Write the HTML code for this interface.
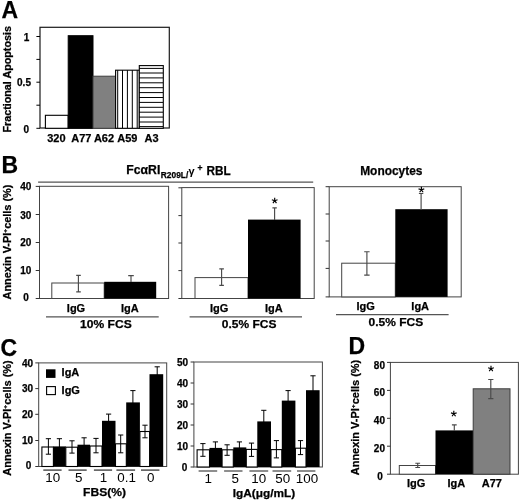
<!DOCTYPE html>
<html><head><meta charset="utf-8">
<style>
html,body{margin:0;padding:0;background:#fff;}
svg{display:block;filter:blur(0.3px);}
text{font-family:"Liberation Sans",sans-serif;fill:#000;}
.b,.pl,.t,.x{stroke:#000;stroke-width:0.25;}
.b{font-weight:bold;}
.pl{font-weight:bold;font-size:23px;}
.t{font-weight:bold;font-size:10px;}
.x{font-weight:bold;font-size:11px;}
.r{font-size:13.4px;}
.box{fill:none;stroke:#1a1a1a;stroke-width:1.2;}
.bk{fill:#000;stroke:#000;stroke-width:1;}
.wh{fill:#fff;stroke:#000;stroke-width:1.1;}
.gr{fill:#808080;stroke:#3c3c3c;stroke-width:1;}
.e{stroke:#000;stroke-width:1;fill:none;}
.eg{stroke:#4a4a4a;stroke-width:1.15;fill:none;}
.u{stroke:#555;stroke-width:1.3;fill:none;}
.u2{stroke:#6a6a6a;stroke-width:1.7;fill:none;}
.tk{stroke:#000;stroke-width:1;fill:none;}
.box2{fill:none;stroke:#444;stroke-width:1;}
.tk2{stroke:#333;stroke-width:1;fill:none;}
.whg{fill:#fff;stroke:#444;stroke-width:1;}
.bk0{fill:#000;stroke:none;}
.as{stroke:#000;stroke-width:1.15;fill:none;}
</style></head>
<body>
<svg width="520" height="502" viewBox="0 0 520 502">
<rect width="520" height="502" fill="#fff"/>

<!-- ===== Panel A ===== -->
<g id="A">
<text class="pl" x="1.6" y="18.2" font-size="25.5">A</text>
<rect class="box" x="40" y="27.3" width="129.3" height="100.7"/>
<path class="tk" d="M36.4 36.5h3.6M36.4 59.4h3.6M36.4 82.2h3.6M36.4 105.2h3.6M36.4 128.3h3.6"/>
<text class="t" x="26.6" y="41" text-anchor="middle" font-size="11">1</text>
<text class="t" x="24" y="86.2" text-anchor="middle" font-size="11">0.5</text>
<text class="t" x="26.2" y="133" text-anchor="middle" font-size="11">0</text>
<text class="t" transform="translate(10.8,79.3) rotate(-90)" text-anchor="middle" font-size="10.3" textLength="106.5" lengthAdjust="spacingAndGlyphs">Fractional Apoptosis</text>
<rect class="wh" x="45.4" y="115.3" width="22.8" height="13"/>
<rect class="bk" x="68.2" y="35.7" width="24.8" height="92.6"/>
<rect class="gr" x="93" y="76.2" width="22.6" height="52.1" stroke="#5a5a5a"/>
<rect class="wh" x="115.6" y="70.2" width="23.7" height="58.1"/>
<path class="e" d="M117.7 70.2V128M122.5 70.2V128M127.4 70.2V128M132.3 70.2V128M137.2 70.2V128"/>
<rect class="wh" x="139.3" y="65.6" width="24" height="62.7" stroke-width="1.3"/>
<path class="e" stroke-width="1.2" d="M139 68.4h24M139 73h24M139 77.9h24M139 82.8h24M139 87.7h24M139 92.6h24M139 97.5h24M139 102.4h24M139 107.3h24M139 112.2h24M139 117.1h24M139 122h24M139 126.6h24"/>
<text class="x" x="56.4" y="141.8" text-anchor="middle">320</text>
<text class="x" x="81.3" y="141.8" text-anchor="middle">A77</text>
<text class="x" x="104" y="141.8" text-anchor="middle">A62</text>
<text class="x" x="127.3" y="141.8" text-anchor="middle">A59</text>
<text class="x" x="151.5" y="141.8" text-anchor="middle">A3</text>
</g>

<!-- ===== Panel B ===== -->
<g id="B">
<text class="pl" x="1.6" y="172.6" font-size="25.5">B</text>
<text class="b" x="126.3" y="174.2" font-size="12.5" textLength="34" lengthAdjust="spacingAndGlyphs">Fc&#945;RI</text>
<text class="b" x="160.8" y="178.2" font-size="8.2" textLength="27.5" lengthAdjust="spacingAndGlyphs">R209L/</text>
<text x="188.5" y="175" font-size="11" font-family="Liberation Serif" font-weight="bold">&#947;</text>
<text class="b" x="197.4" y="171" font-size="8.5">+</text>
<text class="b" x="206.4" y="174.6" font-size="12.5" textLength="24.2" lengthAdjust="spacingAndGlyphs">RBL</text>
<text class="b" x="360.2" y="175" font-size="12.5" textLength="62.3" lengthAdjust="spacingAndGlyphs">Monocytes</text>
<path class="u" d="M38.1 182.2H313.2"/>
<!-- B1 -->
<rect class="box2" x="39.5" y="186.3" width="129.1" height="112.2"/>
<path class="tk2" d="M35.7 186.4h3.8M35.7 214.5h3.8M35.7 242.5h3.8M35.7 270.5h3.8M35.7 298.5h3.8"/>
<text class="t" x="25.8" y="190.3" text-anchor="middle" font-size="10.5">40</text>
<text class="t" x="25.8" y="218.5" text-anchor="middle" font-size="10.5">30</text>
<text class="t" x="25.8" y="246" text-anchor="middle" font-size="10.5">20</text>
<text class="t" x="25.8" y="274.3" text-anchor="middle" font-size="10.5">10</text>
<text class="t" x="26" y="301.1" text-anchor="middle" font-size="10.5">0</text>
<text class="t" transform="translate(10.9,242) rotate(-90)" text-anchor="middle" font-size="11" textLength="115" lengthAdjust="spacingAndGlyphs">Annexin V-PI<tspan font-size="6" dy="-4.2">+</tspan><tspan dy="4.2">cells (%)</tspan></text>
<rect class="whg" x="51.8" y="283" width="52.4" height="15.5"/>
<rect class="bk0" x="104.2" y="281.8" width="52" height="16.7"/>
<path class="eg" d="M78.4 275.3V291.8M76.2 275.3h4.6M76.2 291.8h4.6"/>
<path class="eg" d="M131 275.6V282M128.2 275.6h5.6"/>
<text class="x" x="76" y="311.7" text-anchor="middle" font-size="12.9">IgG</text>
<text class="x" x="129.8" y="311.7" text-anchor="middle" font-size="12.9">IgA</text>
<path class="u" d="M46 316.9H158.7"/>
<text class="x" x="80.1" y="327.8" font-size="13" textLength="51.6" lengthAdjust="spacingAndGlyphs">10% FCS</text>
<!-- B2 -->
<rect class="box2" x="181.8" y="187.6" width="132.4" height="110.9"/>
<path class="tk2" d="M178.4 187.8h3.4M178.4 215.6h3.4M178.4 243h3.4M178.4 270.6h3.4M178.4 298.5h3.4"/>
<rect class="whg" x="195" y="277.6" width="53" height="20.9"/>
<rect class="bk0" x="248" y="219.6" width="52.6" height="78.9"/>
<path class="eg" d="M221.6 268.8V285.3M219.3 268.8h4.6M219.3 285.3h4.6"/>
<path class="eg" d="M274.6 207.8V220M272.4 207.8h4.4"/>
<path class="as" d="M274.70 200.70L274.70 197.70M274.70 200.70L271.85 199.77M274.70 200.70L272.94 203.13M274.70 200.70L276.46 203.13M274.70 200.70L277.55 199.77"/>
<text class="x" x="219.2" y="311.8" text-anchor="middle" font-size="12.7">IgG</text>
<text class="x" x="273.8" y="311.8" text-anchor="middle" font-size="12.7">IgA</text>
<path class="u" d="M189.6 316.9H302"/>
<text class="x" x="221.8" y="328.2" font-size="13" textLength="54.6" lengthAdjust="spacingAndGlyphs">0.5% FCS</text>
<!-- B3 -->
<rect class="box2" x="329.2" y="186.7" width="132" height="110.2"/>
<path class="tk2" d="M325.6 186.7h3.6M325.6 214h3.6M325.6 241h3.6M325.6 268.4h3.6M325.6 296.9h3.6"/>
<rect class="whg" x="341.7" y="263.2" width="53.6" height="33.7"/>
<rect class="bk0" x="395.3" y="209.2" width="52.3" height="87.7"/>
<path class="eg" d="M366.9 251.7V275.1M364.2 251.7h5.4M364.2 275.1h5.4"/>
<path class="eg" d="M421.1 193.5V210M418.9 193.5h4.4"/>
<path class="as" d="M421.40 189.80L421.40 186.80M421.40 189.80L418.55 188.87M421.40 189.80L419.64 192.23M421.40 189.80L423.16 192.23M421.40 189.80L424.25 188.87"/>
<text class="x" x="365.6" y="310" text-anchor="middle" font-size="12.9">IgG</text>
<text class="x" x="420.2" y="310" text-anchor="middle" font-size="12.9">IgA</text>
<path class="u" d="M336 314.6H448.6"/>
<text class="x" x="368.6" y="326.3" font-size="13" textLength="54.6" lengthAdjust="spacingAndGlyphs">0.5% FCS</text>
</g>

<!-- ===== Panel C ===== -->
<g id="C">
<text class="pl" x="0.6" y="356" font-size="25.5">C</text>
<!-- C1 -->
<rect class="box2" x="38.7" y="362.9" width="128" height="103.6"/>
<path class="tk2" d="M35.3 362.9h3.4M35.3 388.6h3.4M35.3 414.3h3.4M35.3 440.5h3.4M35.3 466.5h3.4"/>
<text class="t" x="27.6" y="366.5" text-anchor="middle" font-size="10.6">40</text>
<text class="t" x="27.6" y="392.2" text-anchor="middle" font-size="10.6">30</text>
<text class="t" x="27.6" y="417.8" text-anchor="middle" font-size="10.6">20</text>
<text class="t" x="27.6" y="444" text-anchor="middle" font-size="10.6">10</text>
<text class="t" x="28.6" y="468.5" text-anchor="middle" font-size="10.6">0</text>
<text class="t" transform="translate(11.4,418) rotate(-90)" text-anchor="middle" font-size="11" textLength="115.5" lengthAdjust="spacingAndGlyphs">Annexin V-PI<tspan font-size="6" dy="-4.2">+</tspan><tspan dy="4.2">cells (%)</tspan></text>
<rect class="bk0" x="46" y="369.3" width="9.5" height="8.6"/>
<text class="x" x="61.6" y="376.2" font-size="13.2">IgA</text>
<rect class="wh" x="46.6" y="386.6" width="8.8" height="8"/>
<text class="x" x="61.6" y="393.8" font-size="13.2">IgG</text>
<g>
<rect class="wh" x="41.9" y="447" width="11.5" height="19.5"/><rect class="bk0" x="53.4" y="446.4" width="12.4" height="20.1"/>
<rect class="wh" x="65.8" y="447.2" width="11.7" height="19.3"/><rect class="bk0" x="77.5" y="444.7" width="12.5" height="21.8"/>
<rect class="wh" x="90" y="446" width="12" height="20.5"/><rect class="bk0" x="102" y="420.8" width="13.5" height="45.7"/>
<rect class="wh" x="115.5" y="443.8" width="10.8" height="22.7"/><rect class="bk0" x="126.2" y="402.4" width="13.7" height="64.1"/>
<rect class="wh" x="139.9" y="431.5" width="9.7" height="35"/><rect class="bk0" x="149.5" y="374.2" width="13.7" height="92.3"/>
</g>
<path class="e" d="M48.4 438.7V454.2M45.8 438.7h5.2M45.8 454.2h5.2 M59.4 438.7V447M56.8 438.7h5.2
M72 440.8V453.1M69.4 440.8h5.2M69.4 453.1h5.2 M84.1 437.8V445M81.5 437.8h5.2
M96 438.4V452.8M93.4 438.4h5.2M93.4 452.8h5.2 M108.6 414.1V421M106 414.1h5.2
M120.7 435V452.8M118.1 435h5.2M118.1 452.8h5.2 M132.9 390.6V403M130.3 390.6h5.2
M145 425.2V437.8M142.4 425.2h5.2M142.4 437.8h5.2 M157.2 366.8V375M154.6 366.8h5.2"/>
<path class="u2" d="M43.3 470.2H61.6M68.5 470.2H86.7M93.9 470.2H112.1M116.4 470.2H135.1M141 470.2H159.4"/>
<text class="r" x="52.8" y="482.3" text-anchor="middle">10</text>
<text class="r" x="78.8" y="482.3" text-anchor="middle">5</text>
<text class="r" x="103.6" y="482.3" text-anchor="middle">1</text>
<text class="r" x="126.6" y="482.3" text-anchor="middle">0.1</text>
<text class="r" x="150.8" y="482.3" text-anchor="middle">0</text>
<text class="x" x="83.1" y="495.8" font-size="12.3" textLength="42.9" lengthAdjust="spacingAndGlyphs">FBS(%)</text>
<!-- C2 -->
<rect class="box2" x="193.9" y="362" width="128.5" height="105"/>
<path class="tk2" d="M190.6 362h3.3M190.6 383h3.3M190.6 404h3.3M190.6 425h3.3M190.6 446h3.3M190.6 467h3.3"/>
<text class="t" x="182.6" y="366.2" text-anchor="middle" font-size="10.8">50</text>
<text class="t" x="182.6" y="387.2" text-anchor="middle" font-size="10.8">40</text>
<text class="t" x="182.6" y="408.2" text-anchor="middle" font-size="10.8">30</text>
<text class="t" x="182.6" y="429.2" text-anchor="middle" font-size="10.8">20</text>
<text class="t" x="182.6" y="450.2" text-anchor="middle" font-size="10.8">10</text>
<text class="t" x="184.6" y="470.6" text-anchor="middle" font-size="10.8">0</text>
<g>
<rect class="wh" x="197.1" y="449.8" width="12.4" height="17.2"/><rect class="bk0" x="209.5" y="447.9" width="12.6" height="19.1"/>
<rect class="wh" x="222.1" y="449.8" width="11.2" height="17.2"/><rect class="bk0" x="233.3" y="447.4" width="13" height="19.6"/>
<rect class="wh" x="246.3" y="449.4" width="11" height="17.6"/><rect class="bk0" x="257.3" y="421.4" width="13.7" height="45.6"/>
<rect class="wh" x="271" y="449.6" width="10.8" height="17.4"/><rect class="bk0" x="281.8" y="400.6" width="13.6" height="66.4"/>
<rect class="wh" x="295.4" y="448.2" width="10.6" height="18.8"/><rect class="bk0" x="306" y="390.2" width="13.6" height="76.8"/>
</g>
<path class="e" d="M202.9 443.6V456.3M200.3 443.6h5.2M200.3 456.3h5.2 M215.4 441.9V449M212.8 441.9h5.2
M227.1 444.8V455.3M224.5 444.8h5.2M224.5 455.3h5.2 M239.4 441.9V448M236.8 441.9h5.2
M251.5 443.1V456.4M248.9 443.1h5.2M248.9 456.4h5.2 M263.8 410.3V422M261.2 410.3h5.2
M276.4 440.6V457.9M273.8 440.6h5.2M273.8 457.9h5.2 M288.1 390.6V401M285.5 390.6h5.2
M300.5 440.6V454.6M297.9 440.6h5.2M297.9 454.6h5.2 M313 375.8V391M310.4 375.8h5.2"/>
<path class="u2" d="M198.6 471H217.2M224.1 471H242.5M249.4 471H268.2M272.5 471H291.2M297 471H315.4"/>
<text class="r" x="208.2" y="483.2" text-anchor="middle">1</text>
<text class="r" x="235.2" y="483.2" text-anchor="middle">5</text>
<text class="r" x="258.7" y="483.2" text-anchor="middle">10</text>
<text class="r" x="282.8" y="483.2" text-anchor="middle">50</text>
<text class="r" x="307" y="483.2" text-anchor="middle">100</text>
<text class="x" x="232.8" y="497.1" font-size="12.5" textLength="62.5" lengthAdjust="spacingAndGlyphs">IgA(&#956;g/mL)</text>
</g>

<!-- ===== Panel D ===== -->
<g id="D">
<text class="pl" x="348.5" y="354.2" font-size="25.5">D</text>
<rect class="box2" x="390.4" y="362.4" width="128" height="111.8"/>
<path class="tk2" d="M387 362.4h3.4M387 390.4h3.4M387 418.3h3.4M387 446.2h3.4M387 474.2h3.4"/>
<text class="t" x="379.4" y="368.8" text-anchor="middle" font-size="10.8">80</text>
<text class="t" x="379.4" y="396.2" text-anchor="middle" font-size="10.8">60</text>
<text class="t" x="379.4" y="424.2" text-anchor="middle" font-size="10.8">40</text>
<text class="t" x="379.4" y="452" text-anchor="middle" font-size="10.8">20</text>
<text class="t" x="380.1" y="479.8" text-anchor="middle" font-size="10.8">0</text>
<text class="t" transform="translate(358.8,417.5) rotate(-90)" text-anchor="middle" font-size="11" textLength="115.5" lengthAdjust="spacingAndGlyphs">Annexin V-PI<tspan font-size="6" dy="-4.2">+</tspan><tspan dy="4.2">cells (%)</tspan></text>
<rect class="whg" x="399.3" y="465.5" width="36.2" height="8.7"/>
<rect class="bk0" x="435.5" y="430.4" width="37.7" height="43.8"/>
<rect class="gr" x="473.2" y="388.8" width="36.8" height="85.4"/>
<path class="eg" d="M417.7 463.2V467.5M415.3 463.2h4.8M415.3 467.5h4.8"/>
<path class="eg" d="M454.3 424.9V431M451.9 424.9h4.8"/>
<path class="eg" d="M490.8 379.5V398.6M488.2 379.5h5.2M488.2 398.6h5.2"/>
<path class="as" d="M453.80 413.80L453.80 410.80M453.80 413.80L450.95 412.87M453.80 413.80L452.04 416.23M453.80 413.80L455.56 416.23M453.80 413.80L456.65 412.87"/>
<path class="as" d="M491.00 368.70L491.00 365.70M491.00 368.70L488.15 367.77M491.00 368.70L489.24 371.13M491.00 368.70L492.76 371.13M491.00 368.70L493.85 367.77"/>
<text class="x" x="416.2" y="486.6" text-anchor="middle" font-size="14">IgG</text>
<text class="x" x="456.3" y="486.6" text-anchor="middle" font-size="14">IgA</text>
<text class="x" x="491.8" y="486.6" text-anchor="middle" font-size="14">A77</text>
</g>
</svg>
</body></html>
